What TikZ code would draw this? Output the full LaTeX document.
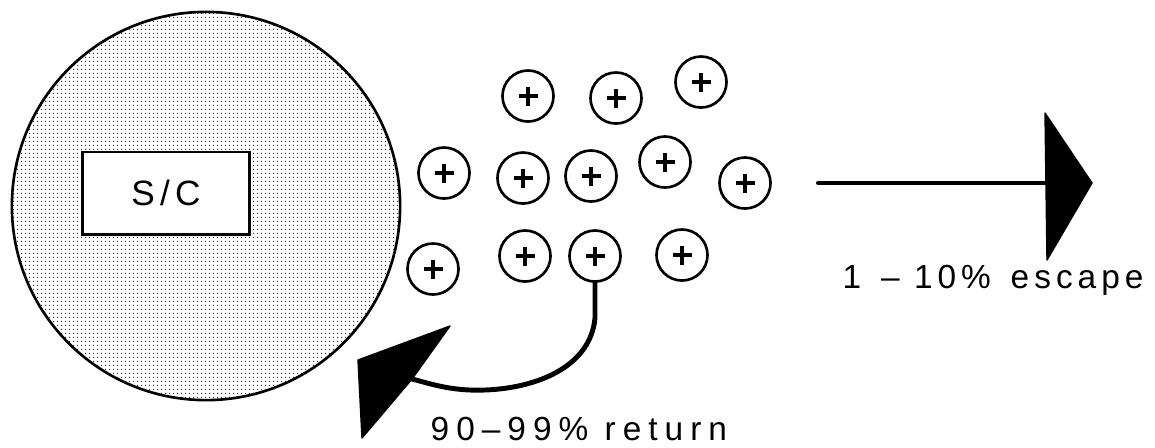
\documentclass[tikz,border=0pt]{standalone}
\usepackage{fontspec}
\setmainfont{Liberation Sans}
\newfontfamily\retfont[LetterSpace=21]{Liberation Sans}
\newfontfamily\escfont[LetterSpace=15]{Liberation Sans}
\newfontfamily\scfont[LetterSpace=15]{Liberation Sans}
\usetikzlibrary{patterns.meta}
\tikzdeclarepattern{name=fdots, type=uncolored,
  bounding box={(0,0) and (1.15pt,1.15pt)},
  tile size={(1.15pt,1.15pt)},
  code={\fill (0.575pt,0.575pt) circle (0.24pt);}}
\tikzset{
  ion/.style={circle, draw, line width=0.75pt, minimum size=0.51cm, inner sep=0pt,
    path picture={
      \draw[line width=0.9pt]
        ([xshift=-0.095cm]path picture bounding box.center) -- ++(0.19cm,0)
        ([yshift=-0.095cm]path picture bounding box.center) -- ++(0,0.19cm);}},
  lbl/.style={inner sep=0pt},
  headfill/.style={fill=black, draw=black, line width=0.4pt, line join=round},
}
\begin{document}
\begin{tikzpicture}[x=0.01cm, y=-0.01cm]
\useasboundingbox (0,0) rectangle (1155,447);
% spacecraft sheath
\node[circle, minimum size=3.88cm, inner sep=0pt, draw, line width=0.75pt,
  pattern={fdots}, pattern color=black!85] (sheath) at (206,206) {};
\node[draw, fill=white, line width=0.85pt, minimum width=1.66cm, minimum height=0.82cm,
  inner sep=0pt, font=\scfont\fontsize{10pt}{12pt}\selectfont] (sc) at (166,193) {S/C};
% ions
\node[ion] (i1) at (528,96) {};
\node[ion] (i2) at (616,98) {};
\node[ion] (i3) at (701,82) {};
\node[ion] (i4) at (444,173) {};
\node[ion] (i5) at (523,178) {};
\node[ion] (i6) at (591,176) {};
\node[ion] (i7) at (665,162) {};
\node[ion] (i8) at (745,183) {};
\node[ion] (i9) at (433,269) {};
\node[ion] (i10) at (525,256) {};
\node[ion] (i11) at (595,256) {};
\node[ion] (i12) at (682,255) {};
% return arrow
\coordinate (rnotch) at (412,379);
\draw[line width=1.4pt, line cap=round] (i11.south) -- (595,318)
  .. controls (590,372) and (525,392) .. (470,390)
  .. controls (445,389) and (428,383) .. (rnotch);
\path[headfill] (450,326) -- (358,360) -- (362,438) -- (rnotch) -- cycle;
\node[lbl, anchor=base west, font=\retfont\fontsize{9.5pt}{11pt}\selectfont] (ret) at (430,440) {90–99\% return};
% escape arrow
\coordinate (etail) at (818,183);
\coordinate (ebase) at (1046,183);
\draw[line width=1.15pt, line cap=round] (etail) -- (ebase);
\path[headfill] (1045,113) -- (1092,183) -- (1047,260) -- cycle;
\node[lbl, anchor=base west, font=\escfont\fontsize{9.5pt}{11pt}\selectfont] (esc) at (842,288) {1 \,– 10\% \,escape};
\end{tikzpicture}
\end{document}
